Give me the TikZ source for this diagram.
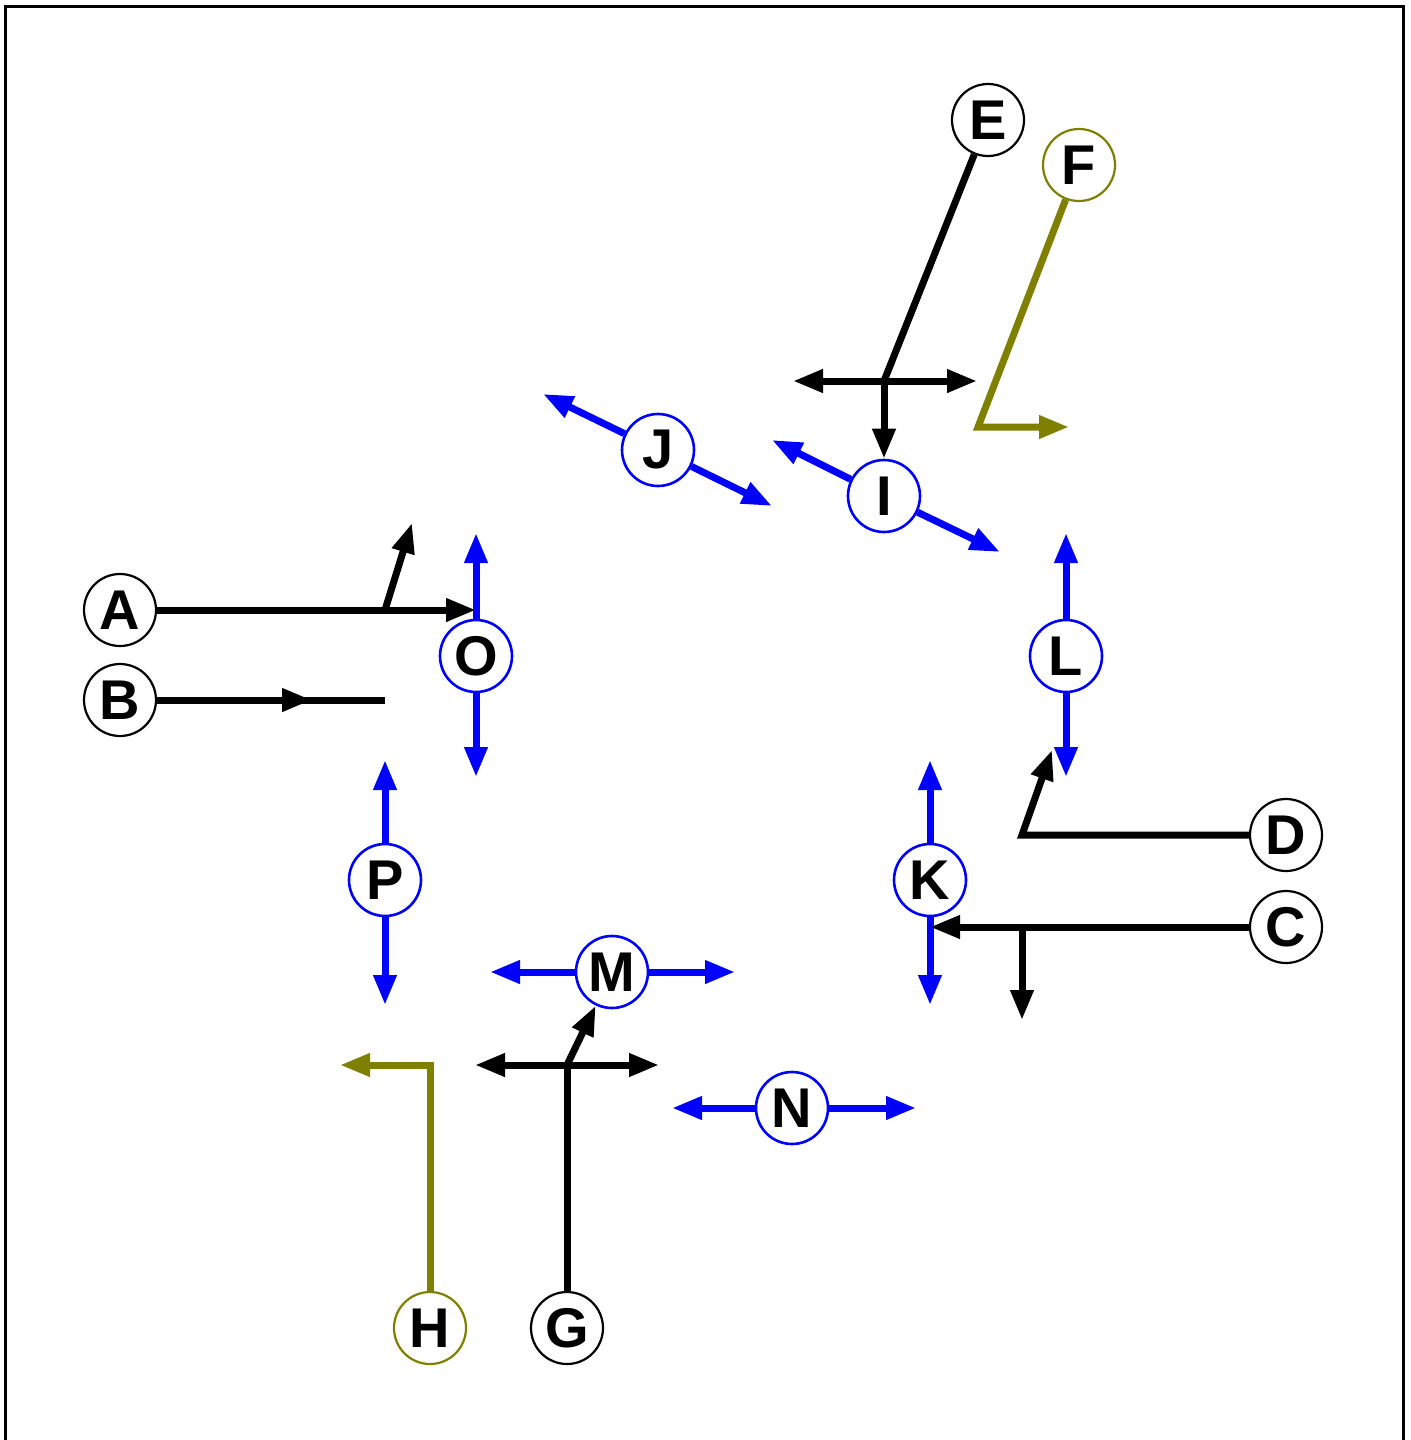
\documentclass[tikz,border=0pt]{standalone}
\usepackage{fontspec}
\setmainfont{Liberation Sans}
\usetikzlibrary{arrows.meta}
\definecolor{olivec}{RGB}{128,128,0}
\tikzset{
  nd/.style={circle, draw=black, fill=white, minimum size=36pt, inner sep=0pt, line width=1.1pt, font=\fontsize{28}{30}\selectfont\bfseries},
  bnd/.style={nd, draw=blue, line width=1.3pt},
  ond/.style={nd, draw=olivec},
  con/.style={line width=3.5pt, -{Triangle[length=15pt,width=11pt]}},
  dcon/.style={line width=3.5pt, {Triangle[length=15pt,width=11pt]}-{Triangle[length=15pt,width=11pt]}},
  pl/.style={line width=3.5pt},
}
\begin{document}
\begin{tikzpicture}[x=0.5pt,y=-0.5pt]
\useasboundingbox (0,0) rectangle (1410,1440);
\begin{scope}
\clip (0,0) rectangle (1410,1440);
\draw[line width=1.5pt] (5,6) rectangle (1403,1460);
\end{scope}
% nodes
\node[nd] (A) at (120,610) {A};
\node[nd] (B) at (120,700) {B};
\node[nd] (C) at (1286,927) {C};
\node[nd] (D) at (1286,835) {D};
\node[nd] (E) at (988,120) {E};
\node[ond] (F) at (1079,165) {F};
\node[nd] (G) at (567,1328) {G};
\node[ond] (H) at (430,1328) {H};
\node[bnd] (I) at (884,496) {I};
\node[bnd] (J) at (658,450) {J};
\node[bnd] (K) at (930,880) {K};
\node[bnd] (L) at (1066,656) {L};
\node[bnd] (M) at (612,972) {M};
\node[bnd] (N) at (792,1108) {N};
\node[bnd] (O) at (476,656) {O};
\node[bnd] (P) at (385,880) {P};
% free-end coordinates
\coordinate (Ou) at (476,533); \coordinate (Od) at (476,777);
\coordinate (Pu) at (385,760); \coordinate (Pd) at (385,1005);
\coordinate (Ku) at (930,760); \coordinate (Kd) at (930,1005);
\coordinate (Lu) at (1066,533); \coordinate (Ld) at (1066,777);
\coordinate (Ml) at (490,972); \coordinate (Mr) at (735,972);
\coordinate (Nl) at (672,1108); \coordinate (Nr) at (916,1108);
\coordinate (Jl) at (543,394); \coordinate (Jr) at (772,506);
\coordinate (Il) at (772,440); \coordinate (Ir) at (1000,552);
% blue connectors
\begin{scope}[blue]
\draw[con] (O) -- (Ou); \draw[con] (O) -- (Od);
\draw[con] (P) -- (Pu); \draw[con] (P) -- (Pd);
\draw[con] (K) -- (Ku); \draw[con] (K) -- (Kd);
\draw[con] (L) -- (Lu); \draw[con] (L) -- (Ld);
\draw[con] (M) -- (Ml); \draw[con] (M) -- (Mr);
\draw[con] (N) -- (Nl); \draw[con] (N) -- (Nr);
\draw[con] (J) -- (Jl); \draw[con] (J) -- (Jr);
\draw[con] (I) -- (Il); \draw[con] (I) -- (Ir);
\end{scope}
% A
\coordinate (a1) at (385,610);
\coordinate (a2) at (476,610);
\coordinate (a3) at (412,523);
\draw[pl] (A) -- (a1);
\draw[con] (a1) -- (a2);
\draw[con] (a1) -- (a3);
% B
\coordinate (b1) at (312,700);
\coordinate (b2) at (385,700);
\draw[pl] (B) -- (b2);
\draw[con] (B) -- (b1);
% C
\coordinate (c1) at (1022,927);
\coordinate (c2) at (930,927);
\coordinate (c3) at (1022,1020);
\draw[con] (C) -- (c2);
\draw[con] (c1) -- (c3);
% D
\coordinate (d1) at (1022,835);
\coordinate (d2) at (1052,750);
\draw[con] (D) -- (d1) -- (d2);
% E
\coordinate (e1) at (884,381);
\coordinate (el) at (793,381);
\coordinate (er) at (977,381);
\draw[pl] (E) -- (e1);
\draw[dcon] (el) -- (er);
\draw[con] (e1) -- (I);
% F
\coordinate (f1) at (978,427);
\coordinate (f2) at (1069,427);
\draw[con, olivec] (F) -- (f1) -- (f2);
% G
\coordinate (g1) at (567,1065);
\coordinate (gl) at (475,1065);
\coordinate (gr) at (659,1065);
\draw[pl] (G) -- (g1);
\draw[dcon] (gl) -- (gr);
\draw[con] (g1) -- (M);
% H
\coordinate (h1) at (430,1065);
\coordinate (h2) at (340,1065);
\draw[con, olivec] (H) -- (h1) -- (h2);
\end{tikzpicture}
\end{document}
